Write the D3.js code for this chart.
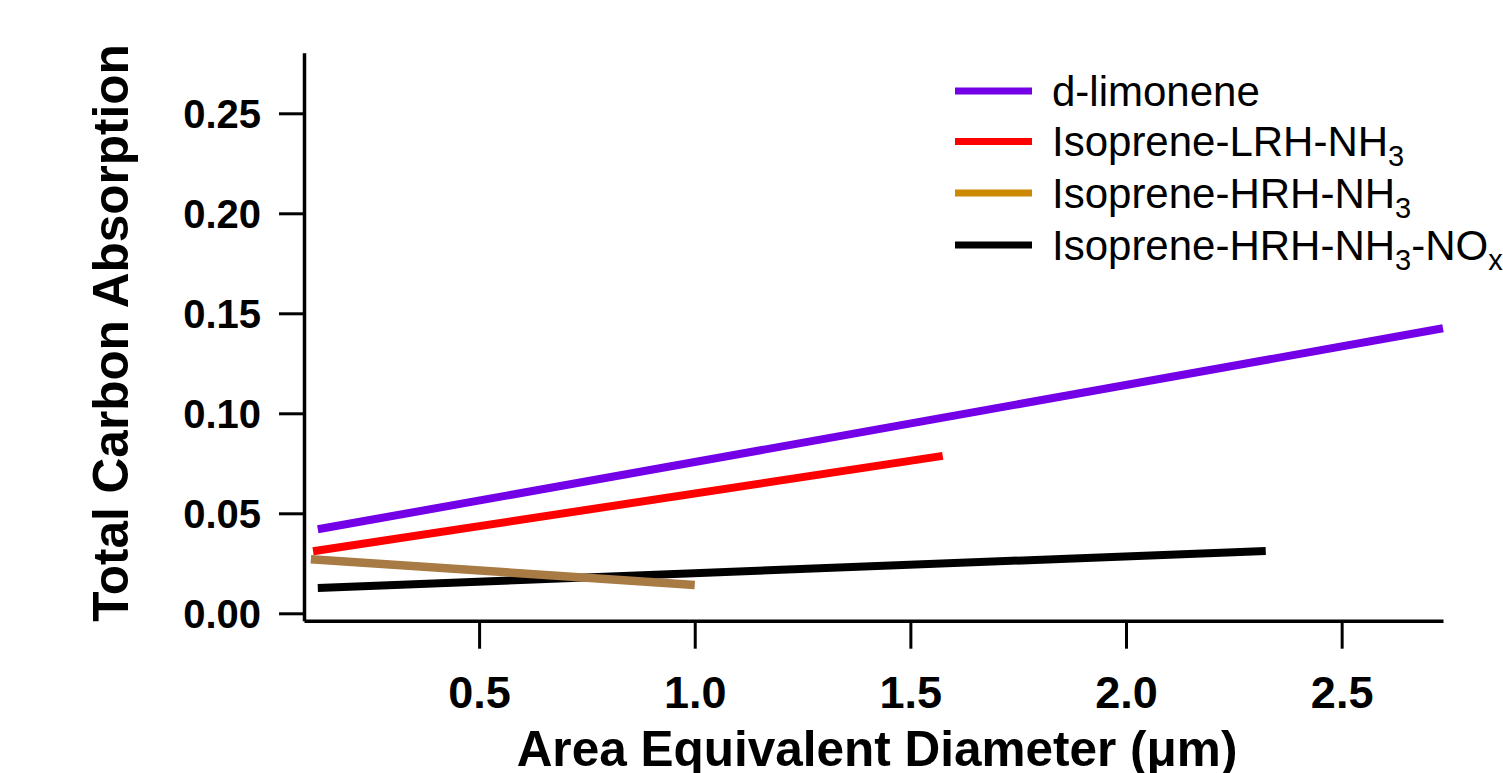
<!DOCTYPE html>
<html>
<head>
<meta charset="utf-8">
<script src="https://cdn.jsdelivr.net/npm/d3@7"></script>
<style>
  html, body { margin: 0; padding: 0; background: #fff; }
  svg { display: block; }
  text { font-family: "Liberation Sans", Arial, sans-serif; }
</style>
</head>
<body>
<svg id="chart" width="1503" height="773"></svg>
<script>
// ---- data ----
const seriesNames = ["d-limonene", "Isoprene-LRH-NH3", "Isoprene-HRH-NH3", "Isoprene-HRH-NH3-NOx"];
const limoneneX = [0.126, 2.735];
const limoneneY = [0.042, 0.1425];
const lrhX = [0.115, 1.575];
const lrhY = [0.031, 0.0787];
const hrhX = [0.110, 1.0];
const hrhY = [0.027, 0.0142];
const noxX = [0.126, 2.324];
const noxY = [0.0127, 0.0312];
const yTicks = [0, 0.05, 0.10, 0.15, 0.20, 0.25];
const xTicks = [0.5, 1.0, 1.5, 2.0, 2.5];
const xDomain = [0.094, 2.735];
const yDomain = [-0.0037, 0.2803];

// legend label parts: [text, isSubscript]
const legendParts = [
  [["d-limonene", false]],
  [["Isoprene-LRH-NH", false], ["3", true]],
  [["Isoprene-HRH-NH", false], ["3", true]],
  [["Isoprene-HRH-NH", false], ["3", true], ["-NO", false], ["x", true]]
];
const lineColors = ["#7300E6", "#FF0000", "#A87A44", "#000000"];
const legendColors = ["#7300E6", "#FF0000", "#CC8800", "#000000"];

const svg = d3.select("#chart");
const x = d3.scaleLinear().domain(xDomain).range([304, 1443]);
const y = d3.scaleLinear().domain(yDomain).range([620.7, 52.7]);

// axes
const yAxis = d3.axisLeft(y).tickValues(yTicks).tickFormat(d3.format(".2f")).tickSize(25).tickSizeOuter(0).tickPadding(18);
const gy = svg.append("g").attr("transform", "translate(304,0)").call(yAxis);
gy.select(".domain").attr("stroke", "#000").attr("stroke-width", 3.5);
gy.selectAll(".tick line").attr("stroke", "#000").attr("stroke-width", 3);
gy.selectAll(".tick text").attr("font-size", 40).attr("font-weight", "bold").attr("fill", "#000")
  .attr("dy", "0.36em");

const xAxis = d3.axisBottom(x).tickValues(xTicks).tickFormat(d3.format(".1f")).tickSize(28).tickSizeOuter(0).tickPadding(27);
const gx = svg.append("g").attr("transform", "translate(0,620.7)").call(xAxis);
gx.select(".domain").attr("stroke", "#000").attr("stroke-width", 3.5);
gx.selectAll(".tick line").attr("stroke", "#000").attr("stroke-width", 3);
gx.selectAll(".tick text").attr("font-size", 45).attr("font-weight", "bold").attr("fill", "#000");

// axis titles
svg.append("text")
  .attr("x", 877).attr("y", 766)
  .attr("text-anchor", "middle")
  .attr("font-size", 49.5).attr("font-weight", "bold")
  .text("Area Equivalent Diameter (\u03BCm)");

svg.append("text")
  .attr("transform", "translate(128,333) rotate(-90)")
  .attr("text-anchor", "middle")
  .attr("font-size", 49.5).attr("font-weight", "bold")
  .text("Total Carbon Absorption");

// lines
const series = [
  [limoneneX, limoneneY],
  [lrhX, lrhY],
  [hrhX, hrhY],
  [noxX, noxY]
];
const line = d3.line().x(d => x(d[0])).y(d => y(d[1]));
const order = [3, 0, 1, 2];
order.forEach(i => {
  const pts = series[i][0].map((v, k) => [v, series[i][1][k]]);
  svg.append("path")
    .datum(pts)
    .attr("d", line)
    .attr("fill", "none")
    .attr("stroke", lineColors[i])
    .attr("stroke-width", i === 2 ? 8.5 : 8)
    .attr("stroke-linecap", "butt");
});

// legend
const legendRowsY = [91, 141.5, 193, 245];
seriesNames.forEach((name, i) => {
  const cy = legendRowsY[i];
  svg.append("line")
    .attr("x1", 955).attr("x2", 1032)
    .attr("y1", cy).attr("y2", cy)
    .attr("stroke", legendColors[i]).attr("stroke-width", 7);
  const t = svg.append("text")
    .attr("x", 1052).attr("y", cy + 14.5)
    .attr("font-size", 42).attr("fill", "#000");
  legendParts[i].forEach(([s, sub], k) => {
    if (sub) {
      t.append("tspan").attr("font-size", 29).attr("dy", 10).text(s);
    } else {
      const ts = t.append("tspan").text(s);
      if (k > 0) ts.attr("dy", -10);
    }
  });
});
</script>
</body>
</html>
